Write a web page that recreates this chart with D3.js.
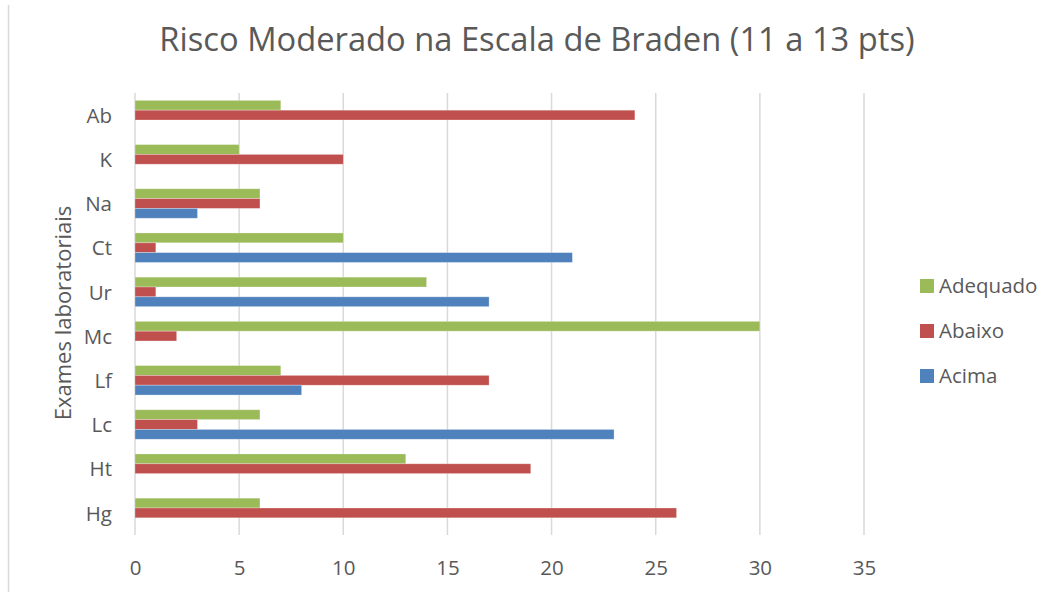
<!DOCTYPE html>
<html><head><meta charset="utf-8">
<script src="https://cdn.jsdelivr.net/npm/d3@7"></script>
<style>body{margin:0;background:#fff;} svg{display:block;font-family:"Open Sans","Noto Sans",sans-serif;}</style>
</head><body>
<svg id="c" width="1054" height="592"></svg>
<script>
const categories = ["Ab","K","Na","Ct","Ur","Mc","Lf","Lc","Ht","Hg"];
const seriesNames = ["Adequado","Abaixo","Acima"];
const adequado = [7,5,6,10,14,30,7,6,13,6];
const abaixo   = [24,10,6,1,1,2,17,3,19,26];
const acima    = [0,0,3,21,17,0,8,23,0,0];
const colors = ["#9BBB59","#C0504D","#4F81BD"];
const xTicks = [0,5,10,15,20,25,30,35];
const title = "Risco Moderado na Escala de Braden (11 a 13 pts)";
const yTitle = "Exames laboratoriais";

(function(){
const svg = d3.select("#c");
const pL = 135, pR = 864, pT = 93, pB = 535;
const x = d3.scaleLinear().domain([0,35]).range([pL,pR]);
const y = d3.scaleBand().domain(categories).range([pT,pB]).paddingInner(0.333).paddingOuter(0.1665);
const ySub = d3.scaleBand().domain(seriesNames).range([0,y.bandwidth()]);
const txt = "#595959";

// frame left line
svg.append("line").attr("x1",8.5).attr("x2",8.5).attr("y1",5).attr("y2",592).attr("stroke","#d9d9d9").attr("stroke-width",1.5);

// gridlines
svg.append("g").selectAll("line").data(xTicks).join("line")
  .attr("x1",d=>x(d)).attr("x2",d=>x(d)).attr("y1",pT).attr("y2",pB)
  .attr("stroke","#d9d9d9").attr("stroke-width",1.5);

// x axis labels
const xa = svg.append("g").attr("transform",`translate(0,${pB})`)
  .call(d3.axisBottom(x).tickValues(xTicks).tickSize(0).tickPadding(0));
xa.select(".domain").remove();
xa.selectAll("text").attr("dy",null).attr("y",40).attr("font-size",20.5).attr("fill",txt).attr("font-family","'Open Sans'");

// y axis labels
const ya = svg.append("g").attr("transform",`translate(${pL},0)`)
  .call(d3.axisLeft(y).tickSize(0).tickPadding(23));
ya.select(".domain").remove();
ya.selectAll("text").attr("dy","0.38em").attr("font-size",20.5).attr("fill",txt).attr("font-family","'Open Sans'");

const data = categories.map((c,i)=>({cat:c, vals:[adequado[i],abaixo[i],acima[i]]}));
const g = svg.append("g");
data.forEach(d=>{
  d.vals.forEach((v,j)=>{
    if(v<=0) return;
    g.append("rect")
      .attr("x",x(0)).attr("y",y(d.cat)+ySub(seriesNames[j]))
      .attr("width",x(v)-x(0)).attr("height",ySub.bandwidth())
      .attr("fill",colors[j]).attr("stroke","rgba(255,255,255,0.35)").attr("stroke-width",0.8);
  });
});

// title
svg.append("text").attr("x",537).attr("y",51).attr("text-anchor","middle")
  .attr("font-size",32.7).attr("fill",txt).text(title);

// y title
svg.append("text").attr("transform","translate(71,313) rotate(-90)").attr("text-anchor","middle")
  .attr("font-size",22).attr("fill",txt).text(yTitle);

// legend
const legY = [293,338,383];
seriesNames.forEach((s,i)=>{
  svg.append("rect").attr("x",920).attr("y",legY[i]-14).attr("width",14).attr("height",14).attr("fill",colors[i]);
  svg.append("text").attr("x",939).attr("y",legY[i]).attr("font-size",20.5).attr("fill",txt).text(s);
});
})();
</script>
</body></html>
